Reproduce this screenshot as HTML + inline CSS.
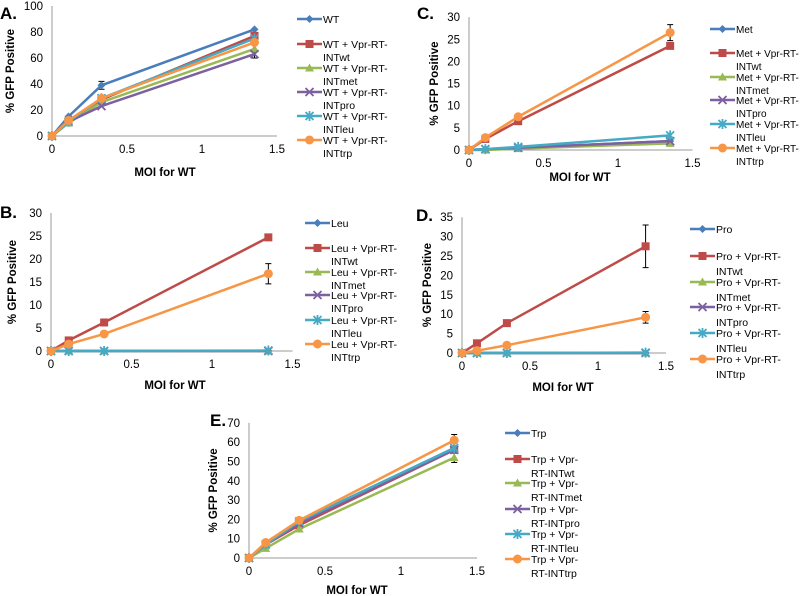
<!DOCTYPE html>
<html><head><meta charset="utf-8"><style>
html,body{margin:0;padding:0;background:#fff;}
svg{display:block;font-family:"Liberation Sans",Arial,sans-serif;}
</style></head><body>
<svg id="fig" width="800" height="596" viewBox="0 0 800 596" xmlns="http://www.w3.org/2000/svg"></svg>
<script>
const xValues = [0, 0.11, 0.33, 1.35];
const xTicks = [0, 0.5, 1, 1.5];
const xTickLabels = ["0", "0.5", "1", "1.5"];
const colors = ["#4a7ebb","#be4b48","#98b954","#7d60a0","#46aac5","#f79646"];
const markers = ["diamond","square","triangle","x","star","circle"];

const aSeries = [[0,15,39,82],[0,11,28,77],[0,10,26,67],[0,11,23,63],[0,11,29,75],[0,12,29,72]];
const aNames = ["WT","WT + Vpr-RT-|INTwt","WT + Vpr-RT-|INTmet","WT + Vpr-RT-|INTpro","WT + Vpr-RT-|INTleu","WT + Vpr-RT-|INTtrp"];
const aYTicks = [0,20,40,60,80,100];

const cSeries = [[0,0.2,0.5,2],[0,2.5,6.5,23.5],[0,0,0.3,1.5],[0,0.2,0.5,2],[0,0.2,0.7,3.3],[0,2.8,7.5,26.5]];
const cNames = ["Met","Met + Vpr-RT-|INTwt","Met + Vpr-RT-|INTmet","Met + Vpr-RT-|INTpro","Met + Vpr-RT-|INTleu","Met + Vpr-RT-|INTtrp"];
const cYTicks = [0,5,10,15,20,25,30];

const bSeries = [[0,0,0,0],[0,2.3,6.2,24.7],[0,0,0,0],[0,0,0,0],[0,0,0,0.1],[0,1.5,3.7,16.8]];
const bNames = ["Leu","Leu + Vpr-RT-|INTwt","Leu + Vpr-RT-|INTmet","Leu + Vpr-RT-|INTpro","Leu + Vpr-RT-|INTleu","Leu + Vpr-RT-|INTtrp"];
const bYTicks = [0,5,10,15,20,25,30];

const dSeries = [[0,0,0,0],[0,2.5,7.7,27.5],[0,0,0,0],[0,0,0,0],[0,0,0,0.1],[0,0.6,2,9.2]];
const dNames = ["Pro","Pro + Vpr-RT-|INTwt","Pro + Vpr-RT-|INTmet","Pro + Vpr-RT-|INTpro","Pro + Vpr-RT-|INTleu","Pro + Vpr-RT-|INTtrp"];
const dYTicks = [0,5,10,15,20,25,30,35];

const eSeries = [[0,7,18,57],[0,7,17,56],[0,5,15,52],[0,7,18,56],[0,7,19,57],[0,8,19.5,61]];
const eNames = ["Trp","Trp + Vpr-|RT-INTwt","Trp + Vpr-|RT-INTmet","Trp + Vpr-|RT-INTpro","Trp + Vpr-|RT-INTleu","Trp + Vpr-|RT-INTtrp"];
const eYTicks = [0,10,20,30,40,50,60,70];

const NS = "http://www.w3.org/2000/svg";
const svg = document.getElementById("fig");
function mk(tag, attrs, parent){
  const e = document.createElementNS(NS, tag);
  for (const k in attrs) e.setAttribute(k, attrs[k]);
  (parent||svg).appendChild(e);
  return e;
}
function marker(g, type, x, y, c){
  let m;
  if (type==="diamond") m = mk("polygon",{points:`${x},${y-4} ${x+4},${y} ${x},${y+4} ${x-4},${y}`,fill:c},g);
  else if (type==="square") m = mk("rect",{x:x-4,y:y-4,width:8,height:8,fill:c},g);
  else if (type==="triangle") m = mk("polygon",{points:`${x},${y-4.5} ${x+4.5},${y+3.5} ${x-4.5},${y+3.5}`,fill:c},g);
  else if (type==="x") m = mk("path",{d:`M${x-4},${y-4}L${x+4},${y+4}M${x+4},${y-4}L${x-4},${y+4}`,stroke:c,"stroke-width":1.8},g);
  else if (type==="star") m = mk("path",{d:`M${x-4},${y-4}L${x+4},${y+4}M${x+4},${y-4}L${x-4},${y+4}M${x},${y-5}L${x},${y+5}`,stroke:c,"stroke-width":1.8},g);
  else m = mk("circle",{cx:x,cy:y,r:4.5,fill:c},g);
  
  
}
function panel(p){
  const g = mk("g",{});
  
  
  const xs = v => p.x0 + v*p.xs;
  const ys = v => p.y0 - v*p.ys;
  const lab = mk("text",{x:p.lx,y:p.ly,"font-size":17,"font-weight":"bold",fill:"#000"},g);
  lab.textContent = p.id.toUpperCase() + ".";
  
  
  const top = ys(p.yTicks[p.yTicks.length-1]);
  const ya = mk("line",{x1:p.x0,y1:top,x2:p.x0,y2:p.y0,stroke:"#999","stroke-width":1},g);
  
  
  const xa = mk("line",{x1:p.x0,y1:p.y0,x2:xs(1.5),y2:p.y0,stroke:"#999","stroke-width":1},g);
  
  
  p.yTicks.forEach(t=>{
    const tx = mk("text",{x:p.x0-9,y:ys(t)+4,"font-size":11.5,"text-anchor":"end",fill:"#000"},g);
    tx.textContent = t;
    
    
  });
  xTicks.forEach((t,i)=>{
    const tx = mk("text",{x:xs(t),y:p.y0+17,"font-size":11.5,"text-anchor":"middle",fill:"#000"},g);
    tx.textContent = xTickLabels[i];
    
    
  });
  const xt = mk("text",{x:p.xtx,y:p.xty,"font-size":11.5,"font-weight":"bold","text-anchor":"middle"},g);
  xt.textContent = "MOI for WT";
  
  
  const ymid = (top+p.y0)/2;
  const yt = mk("text",{x:p.ytx,y:ymid,"font-size":11.5,"font-weight":"bold","text-anchor":"middle",transform:`rotate(-90 ${p.ytx} ${ymid})`},g);
  yt.textContent = "% GFP Positive";
  
  
  (p.errs||[]).forEach(e=>{
    const x = xs(xValues[e[1]]), v = p.series[e[0]][e[1]];
    const eb = mk("path",{d:`M${x},${ys(v+e[2])}L${x},${ys(v-e[2])}M${x-3},${ys(v+e[2])}L${x+3},${ys(v+e[2])}M${x-3},${ys(v-e[2])}L${x+3},${ys(v-e[2])}`,stroke:"#000","stroke-width":1,fill:"none"},g);
    
    
  });
  p.series.forEach((s,i)=>{
    const sg = mk("g",{},g);
    
    
    const pts = s.map((v,j)=>xs(xValues[j])+","+ys(v)).join(" ");
    const pl = mk("polyline",{points:pts,fill:"none",stroke:colors[i],"stroke-width":2.5,"stroke-linejoin":"round"},sg);
    
    
    s.forEach((v,j)=>marker(sg,markers[i],xs(xValues[j]),ys(v),colors[i]));
  });
  p.names.forEach((n,i)=>{
    const lg = mk("g",{},g);
    
    
    const y = p.legY[i];
    mk("line",{x1:p.legX,y1:y,x2:p.legX+25,y2:y,stroke:colors[i],"stroke-width":2.5},lg);
    marker(lg,markers[i],p.legX+12.5,y,colors[i]);
    n.split("|").forEach((part,k)=>{
      const t = mk("text",{x:p.legX+26,y:y+4+k*p.legLh,"font-size":p.legFs||10.5},lg);
      t.textContent = part;
    });
  });
}
panel({id:"a",x0:52,xs:150,y0:136,ys:1.3,yTicks:aYTicks,series:aSeries,names:aNames,
  errs:[[0,2,3],[3,3,3]],lx:0,ly:19,xtx:165,xty:176,ytx:14,
  legX:297,legY:[19,44,68,92,116,140],legLh:13});
panel({id:"c",x0:469,xs:149,y0:150,ys:4.43,yTicks:cYTicks,series:cSeries,names:cNames,
  errs:[[5,3,1.8]],lx:417,ly:19,xtx:580,xty:181,ytx:438,
  legX:710,legY:[29,53,77,100,124,148],legLh:13,legFs:10});
panel({id:"b",x0:51,xs:161,y0:351,ys:4.6,yTicks:bYTicks,series:bSeries,names:bNames,
  errs:[[5,3,2.2]],lx:0,ly:218,xtx:175,xty:389,ytx:16,
  legX:305,legY:[223,248,272,295,320,344],legLh:13});
panel({id:"d",x0:462,xs:136,y0:353,ys:3.88,yTicks:dYTicks,series:dSeries,names:dNames,
  errs:[[1,3,5.5],[5,3,1.5]],lx:416,ly:221,xtx:563,xty:391,ytx:431,
  legX:690,legY:[229,256,282,307,333,359],legLh:15});
panel({id:"e",x0:249,xs:152,y0:558,ys:1.93,yTicks:eYTicks,series:eSeries,names:eNames,
  errs:[[5,3,3],[2,3,2.5]],lx:210,ly:426,xtx:357,xty:594,ytx:217,
  legX:505,legY:[433,459,483,509,534,559],legLh:14});
</script>
</body></html>
